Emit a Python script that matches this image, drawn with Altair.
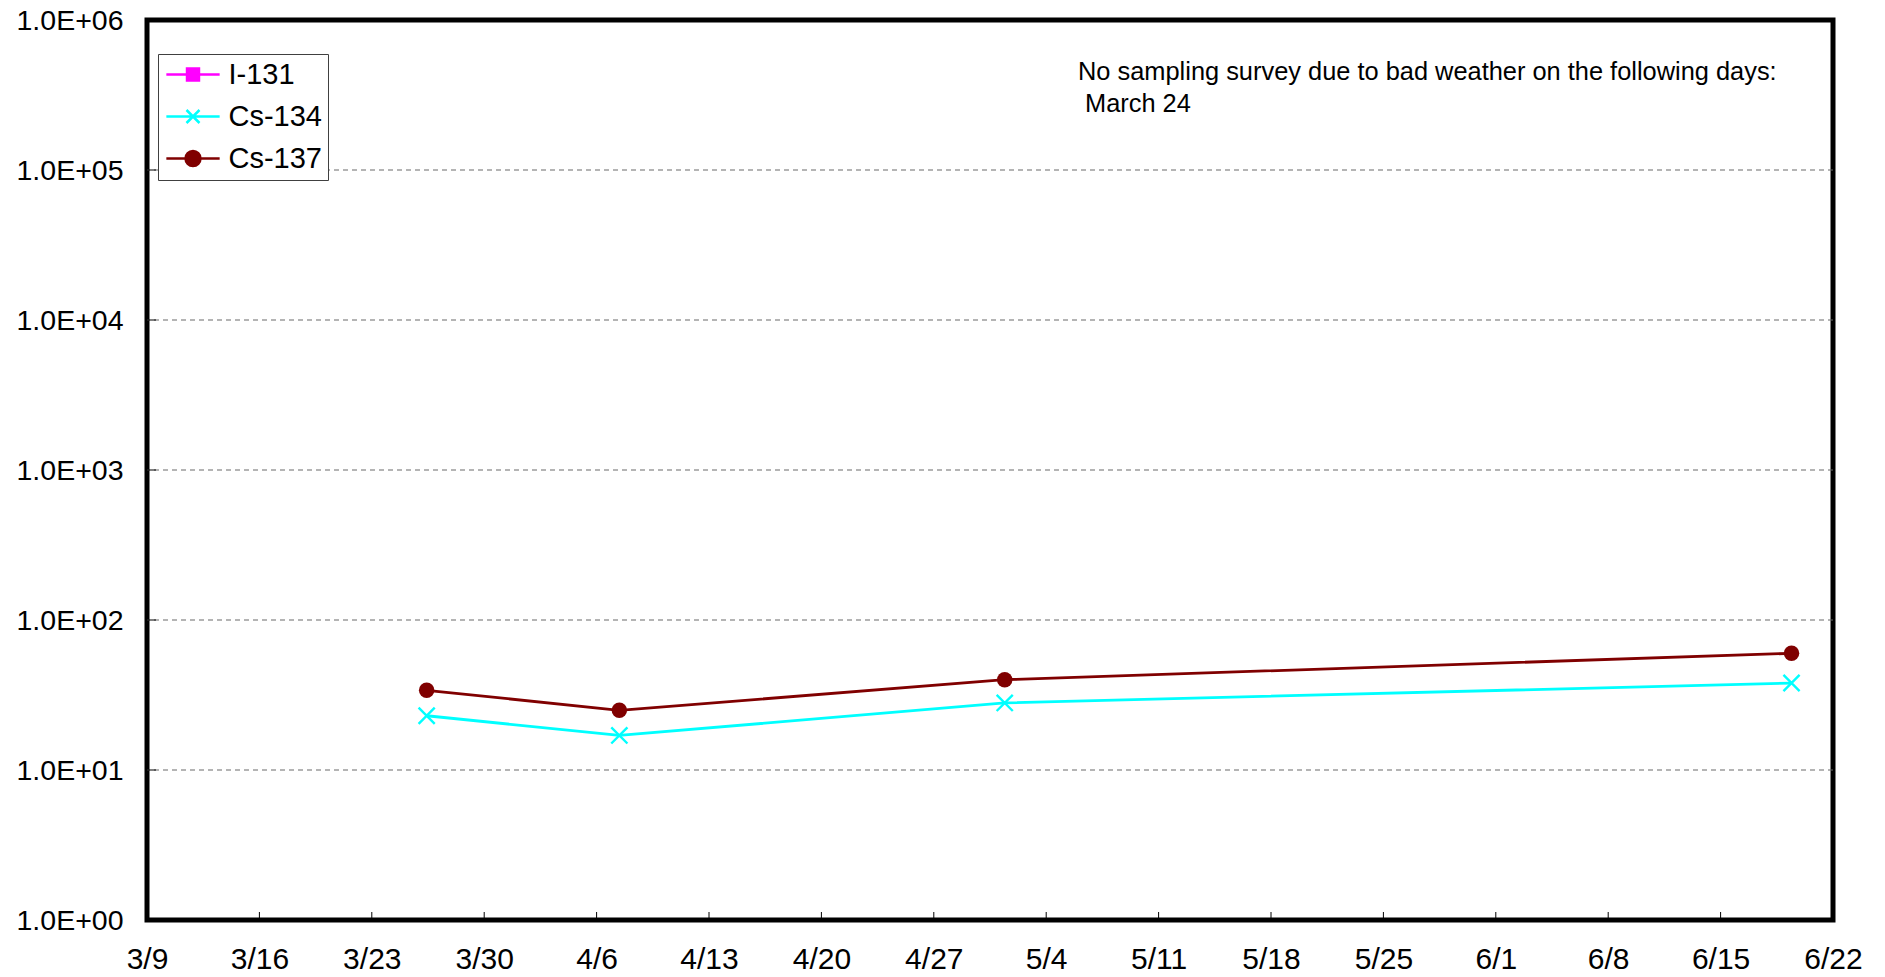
import altair as alt
import pandas as pd

# ---- data ----
sample_dates = ["2011-03-26T10:00:00Z", "2011-04-07T10:00:00Z",
                "2011-05-01T10:00:00Z", "2011-06-19T10:00:00Z"]
i131_values = [None, None, None, None]          # not detected
cs134_values = [23, 17, 28, 38]
cs137_values = [34, 25, 40, 60]

series_names = ["I-131", "Cs-134", "Cs-137"]
series_colors = ["#FF00FF", "#00FFFF", "#800000"]

x_tick_dates = ["2011-03-09", "2011-03-16", "2011-03-23", "2011-03-30",
                "2011-04-06", "2011-04-13", "2011-04-20", "2011-04-27",
                "2011-05-04", "2011-05-11", "2011-05-18", "2011-05-25",
                "2011-06-01", "2011-06-08", "2011-06-15", "2011-06-22"]
y_tick_values = [1, 10, 100, 1000, 10000, 100000, 1000000]
grid_values = [10, 100, 1000, 10000, 100000]

note_lines = ["No sampling survey due to bad weather on the following days:",
              "March 24"]

# ---- styling ----
FONT = "Liberation Sans"
W, H = 1686, 900

CROSS = "M-1,-1L1,1M-1,1L1,-1"
legend_paths = [
    "M-4.1,0L4.1,0M-0.92,-0.92L0.92,-0.92L0.92,0.92L-0.92,0.92Z",
    "M-4.1,0L4.1,0M-1,-1L1,1M-1,1L1,-1",
    "M-4.1,0L4.1,0M1.15,0A1.15,1.15,0,1,1,-1.15,0A1.15,1.15,0,1,1,1.15,0Z",
]


def to_dt(s):
    y, m, d = (int(p) for p in s.split("-"))
    return alt.DateTime(year=y, month=m, date=d, utc=True)


rows = []
for name, vals in zip(series_names, [i131_values, cs134_values, cs137_values]):
    for d, v in zip(sample_dates, vals):
        if v is not None:
            rows.append({"date": d, "value": v, "series": name})
df = pd.DataFrame(rows)

present = [n for n, vals in zip(series_names, [i131_values, cs134_values, cs137_values])
           if any(v is not None for v in vals)]
present_colors = [c for n, c in zip(series_names, series_colors) if n in present]

x_scale = alt.Scale(type="utc", domain=[to_dt(x_tick_dates[0]), to_dt(x_tick_dates[-1])], nice=False)
y_scale = alt.Scale(type="log", domain=[y_tick_values[0], y_tick_values[-1]], nice=False)
color_scale = alt.Scale(domain=present, range=present_colors)

x_axis = alt.Axis(title=None, values=[to_dt(s) for s in x_tick_dates],
                  labelExpr="utcFormat(datum.value, '%-m/%-d')",
                  ticks=False, domain=False, grid=False,
                  labelFontSize=30, labelPadding=24, labelFont=FONT,
                  labelColor="black", labelFlush=False, labelOverlap=False)
y_axis = alt.Axis(title=None, values=y_tick_values,
                  labelExpr="'1.0E+0' + round(log(datum.value) / LN10)",
                  ticks=False, domain=False, grid=False,
                  labelFontSize=28.5, labelPadding=24, labelFont=FONT,
                  labelColor="black", labelFlush=False, labelOverlap=False)

X = alt.X("date:T", scale=x_scale, axis=x_axis)
Y = alt.Y("value:Q", scale=y_scale, axis=y_axis)

grid = alt.Chart(pd.DataFrame({"value": grid_values})).mark_rule(
    stroke="#6a6a6a", strokeWidth=1.2, strokeDash=[5, 4]
).encode(y=Y)

y_ticks = alt.Chart(pd.DataFrame({"value": y_tick_values})).mark_rule(
    color="black", strokeWidth=1
).encode(y=Y, x=alt.value(0), x2=alt.value(9))

x_ticks = alt.Chart(pd.DataFrame({"date": x_tick_dates})).mark_rule(
    color="black", strokeWidth=1
).encode(x=X, y=alt.value(H), y2=alt.value(H - 8))

lines = alt.Chart(df).mark_line(strokeWidth=2.8).encode(
    x=X, y=Y, detail="series:N",
    color=alt.Color("series:N", scale=color_scale, legend=None))

crosses = alt.Chart(df).transform_filter(alt.datum.series == "Cs-134").mark_point(
    shape=CROSS, filled=False, size=260, strokeWidth=2.4, opacity=1
).encode(x=X, y=Y, color=alt.Color("series:N", scale=color_scale, legend=None))

circles = alt.Chart(df).transform_filter(alt.datum.series == "Cs-137").mark_point(
    shape="circle", filled=True, size=240, opacity=1
).encode(x=X, y=Y, color=alt.Color("series:N", scale=color_scale, legend=None))

leg = alt.Legend(title=None, orient="none", legendX=11, legendY=34, padding=6,
                 strokeColor="#404040", fillColor="white",
                 labelFontSize=29, labelFont=FONT, labelColor="black",
                 symbolSize=169, symbolStrokeWidth=2.5, symbolOffset=14.5,
                 labelOffset=21, rowPadding=12)

legend_layer = alt.Chart(pd.DataFrame({"series": series_names})).transform_filter(
    "false"
).mark_point(filled=True, opacity=1, size=169, strokeWidth=2.5).encode(
    fill=alt.Fill("series:N", scale=alt.Scale(domain=series_names, range=series_colors), legend=leg),
    stroke=alt.Stroke("series:N", scale=alt.Scale(domain=series_names, range=series_colors), legend=leg),
    shape=alt.Shape("series:N", scale=alt.Scale(domain=series_names, range=legend_paths), legend=leg),
)

note1 = alt.Chart(pd.DataFrame({"k": [0]})).mark_text(
    text=note_lines[0], align="left", baseline="alphabetic", fontSize=25.4,
    font=FONT, color="black"
).encode(x=alt.value(931), y=alt.value(60))
note2 = alt.Chart(pd.DataFrame({"k": [0]})).mark_text(
    text=note_lines[1], align="left", baseline="alphabetic", fontSize=25.4,
    font=FONT, color="black"
).encode(x=alt.value(938), y=alt.value(92))

chart = alt.layer(grid, y_ticks, x_ticks, lines, crosses, circles, legend_layer, note1, note2).properties(
    width=W, height=H,
    padding={"left": 139, "top": 12, "right": 30, "bottom": 54},
    autosize=alt.AutoSizeParams(type="none"),
).configure_view(stroke="black", strokeWidth=5)

chart.save("out.html", embed_options={"renderer": "svg", "actions": False})
